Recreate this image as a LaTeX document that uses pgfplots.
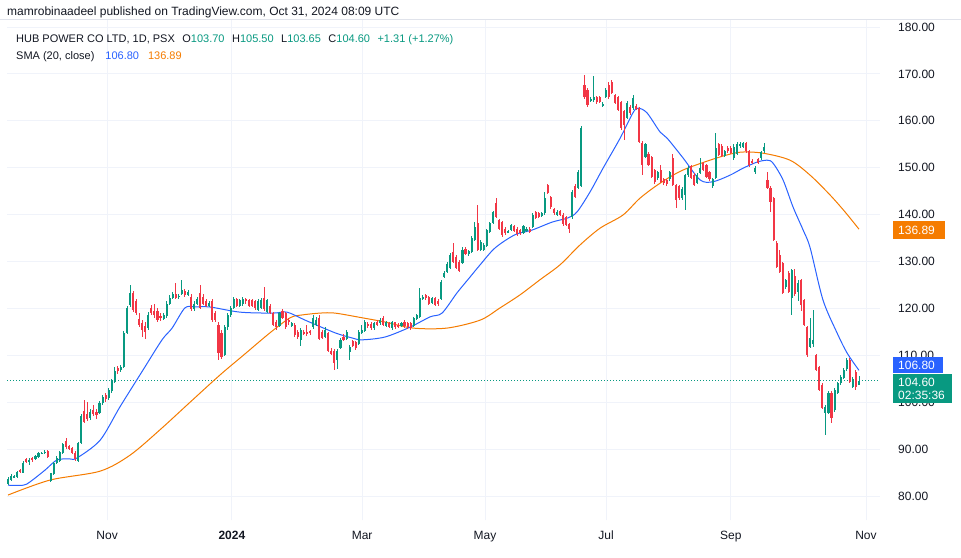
\documentclass[border=0pt]{standalone}
\usepackage{pgfplots}
\pgfplotsset{compat=1.18}
\usepackage{pgfplotstable}
\usepackage{fontspec}
\setmainfont{Liberation Sans}
\definecolor{upc}{HTML}{089981}
\definecolor{dnc}{HTML}{F23645}
\definecolor{smab}{HTML}{2962FF}
\definecolor{smao}{HTML}{F57C00}
\definecolor{gridc}{HTML}{F0F3FA}
\definecolor{txt}{HTML}{131722}
\definecolor{framec}{HTML}{E0E3EB}
\newcommand\fs[1]{\fontsize{#1}{#1}\selectfont}

\pgfplotstableread{
o h l c
82.6 84.0 82.4 83.6
83.5 84.6 83.3 84.3
84.0 84.5 83.8 84.2
84.0 85.4 83.8 85.1
85.5 85.8 84.9 85.1
85.0 87.5 84.8 87.1
87.8 88.2 87.0 87.3
87.2 88.0 86.7 87.6
88.0 88.4 87.3 87.6
87.8 88.8 87.6 88.5
88.3 89.4 88.1 89.1
89.1 89.4 88.9 89.2
89.2 89.7 89.0 89.4
89.7 89.9 88.2 88.4
83.3 85.0 83.0 84.8
84.6 87.3 84.4 87.0
87.0 88.5 86.8 88.0
87.5 89.6 87.3 89.3
89.2 91.4 89.0 91.0
91.8 92.3 90.1 90.4
90.6 90.9 89.8 90.0
90.2 90.5 89.0 89.2
89.2 89.5 87.5 87.8
87.5 91.6 87.2 91.3
91.2 97.5 91.0 97.0
98.2 100.5 95.5 95.8
97.5 100.0 96.0 96.5
96.6 98.5 96.3 98.0
98.3 99.5 97.0 97.5
98.0 98.6 96.5 97.2
97.7 100.2 97.5 99.8
99.8 101.6 99.5 101.2
101.5 102.0 100.0 100.6
100.8 103.0 100.5 102.5
102.3 105.0 102.0 104.5
104.4 107.5 104.0 106.6
107.2 107.8 106.0 106.6
106.8 108.0 106.5 107.5
107.5 115.2 107.2 114.7
114.7 120.5 114.5 120.0
120.7 125.0 120.3 123.3
123.3 123.8 119.3 119.7
121.5 122.0 118.5 119.0
117.8 119.0 116.0 116.5
116.8 117.5 114.0 115.3
116.3 117.0 113.5 115.0
115.8 119.2 115.5 118.6
120.0 120.8 118.5 119.0
119.5 121.0 118.0 118.5
119.5 120.0 117.0 117.5
118.3 119.0 117.3 118.0
117.8 119.0 117.5 118.6
118.4 121.5 118.0 121.0
121.0 122.8 120.7 122.3
122.3 123.5 122.0 123.0
123.0 125.5 122.0 122.3
122.4 123.0 122.0 122.7
123.0 126.0 122.8 124.0
123.8 124.2 122.5 122.8
122.9 124.0 122.7 123.5
122.5 123.0 119.5 119.8
119.8 121.5 119.5 121.0
121.0 122.5 120.8 122.0
123.3 125.0 119.8 120.0
122.5 123.0 120.7 121.0
121.5 122.0 120.2 120.5
120.5 121.5 120.2 121.2
121.5 122.0 117.2 117.5
119.0 119.5 117.0 117.5
116.5 117.0 109.0 110.5
114.8 115.5 109.3 109.6
110.0 116.5 109.8 116.0
116.0 119.0 115.5 118.6
118.5 120.5 118.2 120.0
120.0 122.5 119.8 122.0
122.0 122.3 120.2 120.5
120.5 122.0 120.2 121.7
121.0 122.5 120.5 122.0
122.0 122.2 121.0 121.5
121.7 122.0 120.3 120.5
121.8 122.0 120.2 120.5
121.5 121.8 119.7 120.0
119.7 122.0 119.5 121.5
120.0 122.2 119.8 121.8
122.3 124.6 119.5 119.8
119.2 122.0 119.0 121.7
120.5 121.0 118.7 119.0
119.0 119.3 116.2 116.5
117.0 117.5 115.5 116.0
116.2 119.3 116.0 119.0
119.5 119.8 117.7 118.0
119.0 119.3 115.7 116.0
117.5 118.0 116.5 117.0
116.3 117.2 116.0 116.8
116.5 116.8 114.0 114.3
115.0 115.3 113.5 114.0
113.3 115.8 112.0 115.4
115.0 115.3 114.3 114.7
115.0 116.5 114.2 114.5
115.2 115.5 114.4 114.7
116.0 118.5 115.7 118.0
116.5 118.2 116.2 117.6
118.0 118.5 113.2 113.5
115.0 115.5 113.4 113.7
114.0 116.0 113.7 115.5
114.7 115.0 110.7 111.0
111.0 111.5 110.0 110.2
111.0 111.3 106.9 108.4
109.0 111.3 107.0 111.0
111.6 113.6 111.3 113.3
114.0 114.5 113.0 113.3
113.5 115.3 113.2 115.0
110.8 112.2 109.0 111.8
113.0 113.3 111.7 112.0
112.8 113.0 111.2 111.5
112.5 115.3 112.3 115.0
114.8 116.5 114.5 115.3
115.2 117.5 115.0 117.0
116.7 117.0 115.8 116.2
116.6 117.0 115.5 115.8
115.8 117.2 115.5 116.8
117.0 117.5 116.2 116.5
116.8 118.0 116.5 117.5
118.0 118.3 116.3 116.5
116.3 117.3 116.0 117.0
116.8 117.2 115.8 116.0
115.8 117.3 115.5 117.0
117.0 117.2 115.7 116.0
116.5 116.8 115.8 116.2
116.3 117.0 116.0 116.8
117.0 117.5 115.9 116.2
116.8 117.2 115.6 116.0
116.8 117.0 115.3 115.8
116.3 118.2 116.0 118.0
117.8 118.8 117.5 118.5
118.2 124.3 118.0 122.2
122.0 122.8 121.8 122.5
122.8 123.0 121.8 122.2
122.4 122.7 120.8 121.0
121.2 122.5 121.0 122.3
122.3 122.5 120.5 120.7
121.6 121.9 120.5 120.9
122.0 126.0 121.8 125.6
126.7 128.0 126.4 127.5
127.8 130.0 127.5 129.5
128.6 131.8 128.3 131.4
132.0 134.0 129.7 130.0
131.0 131.3 128.3 128.6
130.0 130.3 127.7 128.0
129.7 133.0 129.4 132.5
132.6 133.0 131.3 131.6
131.5 132.5 131.2 132.2
132.0 135.4 131.8 135.0
134.6 138.5 134.4 137.4
138.2 142.0 132.2 132.5
132.5 134.5 132.2 134.2
132.5 134.0 132.2 133.5
133.2 137.0 133.0 136.7
136.3 138.5 136.0 138.2
138.2 140.8 138.0 140.5
142.5 143.5 139.2 139.5
138.8 139.0 136.7 137.0
138.4 138.7 135.3 135.6
137.0 137.3 135.7 136.0
136.2 136.8 136.0 136.4
136.7 138.0 136.5 137.8
137.5 137.8 136.3 136.6
137.0 137.3 135.5 135.8
136.8 137.0 135.7 136.0
136.0 137.8 135.8 137.5
136.5 137.3 136.3 137.0
137.0 137.3 136.0 136.3
137.4 140.3 137.2 140.0
140.5 140.8 139.0 139.3
140.3 140.5 139.2 139.5
139.8 140.6 139.5 140.3
140.3 144.8 140.0 143.5
146.3 146.6 144.3 144.6
143.8 144.0 141.3 141.6
141.3 141.5 140.0 140.3
140.0 141.0 139.8 140.6
140.8 141.0 139.7 140.0
140.0 140.3 137.6 138.0
139.5 139.8 137.5 137.8
138.0 138.3 136.0 137.0
139.5 145.2 139.0 144.8
146.0 146.5 143.5 143.8
145.7 149.5 145.5 149.0
146.0 158.8 145.8 158.5
167.6 169.8 164.7 165.0
166.6 167.0 163.0 163.4
164.2 165.0 164.0 164.7
164.4 169.5 164.0 165.0
165.0 165.3 163.5 164.0
165.0 165.3 163.7 164.0
163.2 164.0 163.0 163.6
165.0 166.9 164.8 166.6
167.6 168.3 164.7 165.0
168.3 168.6 165.7 166.0
165.5 165.8 163.5 163.8
165.0 165.3 162.0 162.3
164.0 164.3 158.0 158.5
162.0 162.3 156.0 159.0
160.6 164.2 160.3 163.8
163.0 163.3 161.3 161.6
162.7 165.5 162.4 164.9
163.2 163.5 162.2 162.5
162.7 163.0 155.2 155.5
155.3 155.6 148.4 150.6
152.3 155.3 152.0 155.0
153.0 153.3 150.3 150.6
152.3 152.6 147.7 148.0
149.5 149.8 146.5 147.0
147.7 149.3 147.4 149.0
149.5 150.5 146.7 147.0
147.5 147.8 146.4 146.7
147.3 147.6 146.2 146.5
147.5 149.3 147.2 149.0
152.0 153.0 146.0 146.3
146.3 146.6 141.5 143.1
146.0 146.3 143.2 143.5
143.5 145.8 143.2 145.5
144.2 148.7 141.0 148.4
148.4 150.3 148.0 150.0
150.3 150.6 147.5 147.8
148.5 148.8 146.0 146.3
146.8 148.8 146.5 148.5
148.9 152.0 148.6 150.0
151.0 151.3 149.2 149.5
150.5 150.8 147.7 148.0
149.0 149.3 147.2 147.5
146.0 147.8 145.7 147.5
147.8 157.4 147.5 154.2
155.0 155.3 152.4 152.7
154.7 155.0 152.2 152.5
152.5 153.8 152.2 153.5
154.3 154.6 153.2 153.5
154.3 154.6 152.9 153.2
152.0 155.0 151.7 154.5
153.0 155.5 152.7 155.0
154.7 155.5 154.3 155.0
154.5 155.5 154.2 155.2
155.2 155.5 153.2 153.5
153.5 153.8 150.2 150.5
151.5 151.8 150.7 151.0
149.0 150.3 148.7 150.0
151.8 152.0 150.7 151.0
152.0 153.6 151.7 153.3
153.5 155.2 153.2 154.5
147.4 149.0 145.4 145.7
145.7 146.0 140.5 142.7
143.5 143.8 134.3 134.6
134.0 134.3 128.6 128.9
131.4 132.4 127.5 127.8
129.7 130.0 123.0 123.3
124.5 126.3 124.2 126.0
127.5 128.0 123.2 123.5
122.2 128.5 118.5 128.2
127.0 128.5 122.7 123.0
123.5 126.0 121.5 125.5
126.0 126.3 119.5 120.7
121.8 122.0 116.3 116.5
116.0 116.3 109.7 110.0
111.8 118.0 111.5 113.7
112.5 119.7 111.8 113.3
110.0 110.3 106.6 106.9
107.5 107.8 102.3 102.6
103.7 104.0 98.5 98.8
97.7 99.5 93.0 99.0
97.7 102.3 97.4 102.0
102.0 102.3 95.5 96.6
98.3 103.0 98.0 102.6
102.0 104.3 101.7 104.0
104.0 105.7 103.7 105.4
105.2 107.2 105.0 106.9
107.0 109.5 106.7 109.0
109.0 109.5 104.0 104.3
103.3 105.3 103.0 105.0
106.4 106.8 102.7 103.3
103.7 105.5 103.65 104.6
}\ohlc

\begin{document}
\begin{tikzpicture}[x=1pt,y=1pt]
\path[use as bounding box] (0,0) rectangle (961,557);
\fill[white] (0,0) rectangle (961,557);
\begin{axis}[
  at={(7pt,37pt)}, anchor=south west,
  scale only axis, width=873pt, height=501pt,
  xmin=-0.33, xmax=285.9, ymin=74.88, ymax=181.71,
  axis line style={draw=none},
  grid=major, major grid style={draw=gridc, line width=0.9pt},
  major tick length=0pt,
  xtick={32.5,73.4,116.1,156.4,196.1,237,281.3},
  xticklabels={Nov,\textbf{2024},Mar,May,Jul,Sep,Nov},
  ytick={80,90,...,180},
  yticklabel pos=right,
  /pgf/number format/assume math mode=true,
  yticklabel={\pgfmathprintnumber[fixed,fixed zerofill,precision=2,1000 sep={}]{\tick}},
  ticklabel style={font=\fs{12}, text=txt},
  yticklabel style={anchor=west, inner sep=0pt, xshift=18pt},
  xticklabel style={anchor=base, inner sep=0pt, yshift=-19.5pt},
  clip=false,
]
% current price dotted line
\addplot[upc, line width=0.9pt, dash pattern=on 1pt off 2pt, forget plot] coordinates {(-0.33,104.6) (285.9,104.6)};
% SMA long (orange)
\addplot[smao, line width=1pt, smooth, mark=none] coordinates {
(0,80.2) (13.8,83.4) (30.2,85.3) (40,88.7) (49.8,94.1) (59.7,100.0) (69.5,105.8) (77.7,110.3) (85.9,114.8) (92.5,118.0) (96.4,118.6) (102.3,119.0) (107.2,119.0) (116.1,118.0) (123.6,117.1) (132.8,115.8) (143.9,115.8) (154.8,117.5) (161.3,120.1) (167.9,122.9) (174.4,126.1) (181,129.3) (187.5,133.5) (194.1,137.1) (201.6,139.9) (207.2,143.5) (213.8,146.7) (221.3,149.5) (232.5,152.1) (240,153.3) (247.5,153.1) (256.4,151.6) (263,148.4) (269.5,144.2) (274.4,140.6) (279,136.9)};
% SMA 20 (blue)
\addplot[smab, line width=1pt, smooth, mark=none] coordinates {
(0,82.3) (5,82.3) (7.2,83.0) (12.1,85.5) (16.1,87.7) (20.3,87.9) (22.6,88.1) (30.2,91.9) (36.7,99) (44.3,106.9) (50.5,113.3) (53.8,115.8) (58,120.1) (61.3,120.3) (66.2,120.3) (76.1,119.2) (86.9,119.0) (91.5,119.2) (97.4,117.5) (107.2,114.8) (112.8,113.7) (116.1,113.3) (123.6,113.9) (131.8,116.0) (138.4,118.2) (142.3,119.0) (147.2,123.3) (151.5,126.7) (154.8,129.3) (159.7,132.9) (166.2,135.7) (171.8,136.7) (178.4,138.4) (183.6,139.3) (186.6,140.6) (190.8,144.8) (195.1,149.9) (200.7,156.3) (204.9,161.7) (206.6,162.7) (209.5,161.7) (213.8,157.6) (216.1,156.3) (221.3,152.1) (226.9,147.4) (231.1,147.0) (236.7,148.4) (241,149.9) (245.6,151.2) (248.9,151.6) (250.8,151.0) (254.1,147.4) (257.4,141.6) (260.7,136.7) (263,132.9) (267.2,121.8) (271.8,114.8) (275.1,110.5) (279,106.8)};
% wicks up
\addplot[draw=none, mark=none, restrict expr to domain={\thisrow{c}-\thisrow{o}}{0:1000},
  error bars/.cd, y dir=both, y explicit, error mark=none,
  error bar style={line width=0.9pt, draw=upc}]
  table[x expr=\coordindex, y expr=\thisrow{c}, y error plus expr={\thisrow{h}-\thisrow{c}}, y error minus expr={\thisrow{c}-\thisrow{l}}] {\ohlc};
% wicks down
\addplot[draw=none, mark=none, restrict expr to domain={\thisrow{c}-\thisrow{o}}{-1000:-0.0001},
  error bars/.cd, y dir=both, y explicit, error mark=none,
  error bar style={line width=0.9pt, draw=dnc}]
  table[x expr=\coordindex, y expr=\thisrow{c}, y error plus expr={\thisrow{h}-\thisrow{c}}, y error minus expr={\thisrow{c}-\thisrow{l}}] {\ohlc};
% bodies up
\addplot[draw=none, mark=none, restrict expr to domain={\thisrow{c}-\thisrow{o}}{0:1000},
  error bars/.cd, y dir=both, y explicit, error mark=none,
  error bar style={line width=2.1pt, draw=upc}]
  table[x expr=\coordindex, y expr={(\thisrow{o}+\thisrow{c})/2}, y error expr={max(abs(\thisrow{c}-\thisrow{o})/2,0.1)}] {\ohlc};
% bodies down
\addplot[draw=none, mark=none, restrict expr to domain={\thisrow{c}-\thisrow{o}}{-1000:-0.0001},
  error bars/.cd, y dir=both, y explicit, error mark=none,
  error bar style={line width=2.1pt, draw=dnc}]
  table[x expr=\coordindex, y expr={(\thisrow{o}+\thisrow{c})/2}, y error expr={max(abs(\thisrow{c}-\thisrow{o})/2,0.1)}] {\ohlc};
\end{axis}
% header and legend
\draw[framec, line width=0.8pt] (0,538) -- (961,538);
\node[anchor=base west, inner sep=0pt, text=txt, font=\fs{12}] at (7,541) {mamrobinaadeel published on TradingView.com, Oct 31, 2024 08:09 UTC};
\node[anchor=base west, inner sep=0pt, text=txt, font=\fs{11}] at (16,514) {HUB POWER CO LTD, 1D, PSX\hspace{7.5pt}O\textcolor{upc}{103.70}\hspace{7.5pt}H\textcolor{upc}{105.50}\hspace{7.5pt}L\textcolor{upc}{103.65}\hspace{7.5pt}C\textcolor{upc}{104.60}\hspace{7.5pt}\textcolor{upc}{+1.31 (+1.27\%)}};
\node[anchor=base west, inner sep=0pt, text=txt, font=\fs{11}] at (16,497.5) {SMA (20, close)\hspace{11pt}\textcolor{smab}{106.80}\hspace{9pt}\textcolor{smao}{136.89}};
% price labels on the right
\fill[smao] (893,557-239) rectangle (945,557-221);
\node[anchor=west, inner sep=0pt, text=white, font=\fs{12}] at (898,557-230) {136.89};
\fill[smab] (893,557-373.3) rectangle (942.7,557-356.7);
\node[anchor=west, inner sep=0pt, text=white, font=\fs{12}] at (898,557-365) {106.80};
\fill[upc] (893,557-403.3) rectangle (951.7,557-374);
\node[anchor=west, inner sep=0pt, text=white, font=\fs{12}] at (898,557-382) {104.60};
\node[anchor=west, inner sep=0pt, text=white, font=\fs{12}] at (898,557-395.5) {02:35:36};
\end{tikzpicture}
\end{document}
